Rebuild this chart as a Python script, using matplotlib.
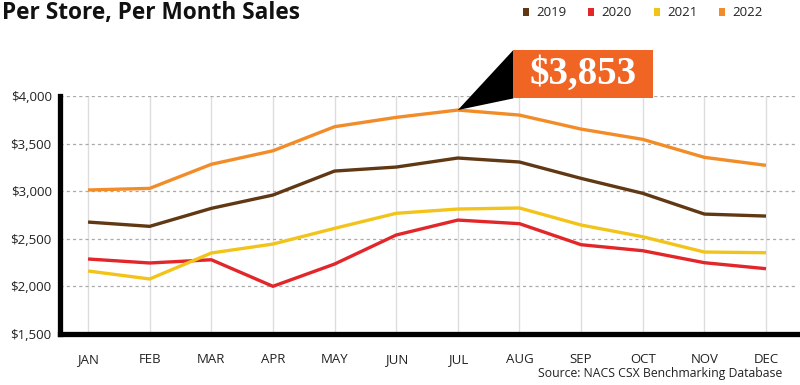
import numpy as np
import matplotlib
matplotlib.use("Agg")
import matplotlib.pyplot as plt
from matplotlib.patches import Polygon, Rectangle

# monthly sales per store
months = ["JAN", "FEB", "MAR", "APR", "MAY", "JUN",
          "JUL", "AUG", "SEP", "OCT", "NOV", "DEC"]
sales_2019 = [2676, 2631, 2820, 2960, 3212, 3254, 3349, 3307, 3135, 2978, 2760, 2739]
sales_2020 = [2288, 2246, 2280, 2001, 2235, 2540, 2697, 2659, 2438, 2375, 2249, 2186]
sales_2021 = [2162, 2078, 2351, 2445, 2610, 2768, 2813, 2824, 2645, 2522, 2361, 2354]
sales_2022 = [3013, 3030, 3283, 3425, 3678, 3776, 3853, 3800, 3653, 3545, 3356, 3272]
years = ["2019", "2020", "2021", "2022"]
colors = ["#603813", "#E2262A", "#F2C41A", "#F28C28"]
y_ticks = [1500, 2000, 2500, 3000, 3500, 4000]

plt.rcParams["font.family"] = ["Open Sans", "DejaVu Sans"]

fig = plt.figure(figsize=(8, 3.85), dpi=100)
ax = fig.add_axes([0.075, 0.1325, 0.921, 0.618])

x = np.arange(len(months))

# grid: light vertical lines, dashed horizontal lines
for xi in x:
    ax.axvline(xi, color="#DDDDDD", lw=1, zorder=1)
for yv in y_ticks[1:]:
    ax.axhline(yv, color="#AAAAAA", lw=0.9, ls=(0, (2.5, 2.5)), zorder=1)

series = [sales_2019, sales_2020, sales_2021, sales_2022]
for name, vals, c in zip(years, series, colors):
    ax.plot(x, vals, color=c, lw=2.4, solid_capstyle="butt", zorder=3, label=name)

ax.set_xlim(-0.455, 11.5)
ax.set_ylim(1500, 4000)
ax.set_xticks(x)
ax.set_xticklabels(months)
ax.set_yticks(y_ticks)
ax.set_yticklabels(["${:,}".format(v) for v in y_ticks])
ax.tick_params(axis="x", length=0, pad=13.5, labelsize=9.5, colors="#222222")
ax.tick_params(axis="y", length=0, pad=6, labelsize=9.5, colors="#222222")

for s in ["top", "right"]:
    ax.spines[s].set_visible(False)
ax.spines["left"].set_linewidth(3.8)
ax.spines["bottom"].set_linewidth(3.8)
ax.spines["left"].set_zorder(5)
ax.spines["bottom"].set_zorder(5)

# callout for the 2022 peak
peak_i = int(np.argmax(sales_2022))
peak_v = sales_2022[peak_i]
bx0, bx1 = peak_i + 0.9, peak_i + 3.16
by0, by1 = peak_v + 122, peak_v + 630
tri = Polygon([[peak_i, peak_v], [bx0, by1], [bx0, by0]], closed=True,
              facecolor="black", edgecolor="none", clip_on=False, zorder=6)
ax.add_patch(tri)
box = Rectangle((bx0, by0), bx1 - bx0, by1 - by0, facecolor="#F06424",
                edgecolor="none", clip_on=False, zorder=7)
ax.add_patch(box)
ax.text((bx0 + bx1) / 2, (by0 + by1) / 2, "${:,}".format(peak_v),
        family="Liberation Serif", fontweight="bold", fontsize=28,
        color="white", ha="center", va="center", zorder=8, clip_on=False)

# title
fig.text(0.003, 0.966, "Per Store, Per Month Sales", fontsize=16.3,
         fontweight="bold", color="#111111", ha="left", va="center")

# legend
leg_x = [0.654, 0.735, 0.8175, 0.899]
for lx, name, c in zip(leg_x, years, colors):
    fig.patches.append(Rectangle((lx, 0.9585), 0.0075, 0.0195, transform=fig.transFigure,
                                 facecolor=c, edgecolor="none"))
    fig.text(lx + 0.017, 0.968, name, fontsize=9.5, color="#222222",
             ha="left", va="center")

fig.text(0.978, 0.031, "Source: NACS CSX Benchmarking Database", fontsize=8.8,
         color="#222222", ha="right", va="center")

fig.savefig("out.png", dpi=100)
